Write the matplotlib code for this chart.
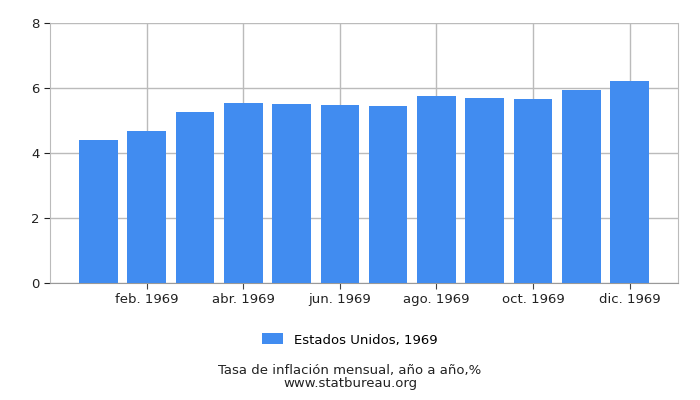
import matplotlib
matplotlib.use('Agg')
import matplotlib.pyplot as plt
import numpy as np

months = ['ene. 1969', 'feb. 1969', 'mar. 1969', 'abr. 1969', 'may. 1969', 'jun. 1969',
          'jul. 1969', 'ago. 1969', 'sep. 1969', 'oct. 1969', 'nov. 1969', 'dic. 1969']
values = [4.41, 4.69, 5.27, 5.54, 5.51, 5.48, 5.46, 5.74, 5.70, 5.67, 5.95, 6.23]
series_name = 'Estados Unidos, 1969'
caption = 'Tasa de inflación mensual, año a año,%'
source = 'www.statbureau.org'


def main():
    fig = plt.figure(figsize=(7, 4), dpi=100)
    ax = fig.add_axes([50/700, 117/400, 628/700, 260/400])
    x = np.arange(len(values))
    ax.bar(x, values, width=0.8, color='#418cf0', label=series_name, zorder=3)

    ax.set_xlim(-1, 12)
    ax.set_ylim(0, 8)
    ax.set_yticks([0, 2, 4, 6, 8])
    ax.set_xticks(x[1::2])
    ax.set_xticklabels(months[1::2])
    ax.tick_params(axis='both', labelsize=9.5, colors='#222222', length=4)
    ax.tick_params(axis='x', length=4, color='#444444')
    ax.grid(True, color='#bbbbbb', linewidth=1, zorder=0)
    ax.spines['top'].set_visible(False)
    ax.spines['right'].set_color('#bbbbbb')
    ax.spines['left'].set_color('#bbbbbb')
    ax.spines['bottom'].set_color('#999999')

    fig.legend(loc='center', bbox_to_anchor=(0.5, 1 - 340/400), frameon=False,
               fontsize=9.5, handlelength=1.6, handleheight=0.9)
    fig.text(0.5, 1 - 377/400, caption + '\n' + source, ha='center', va='center',
             fontsize=9.5, linespacing=0.95, color='#222222')
    fig.savefig('out.png', dpi=100)


if __name__ == '__main__':
    main()
